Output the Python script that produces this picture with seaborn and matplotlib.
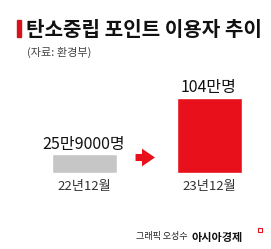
import matplotlib
matplotlib.use("Agg")
import matplotlib.pyplot as plt
import seaborn as sns
import pandas as pd

categories = ["22년12월", "23년12월"]
values = [25.9, 104]
value_labels = ["25만9000명", "104만명"]
bar_colors = ["#c6c6c6", "#e8101a"]
title = "탄소중립 포인트 이용자 추이"
source = "(자료: 환경부)"
credit = "그래픽 오성수"
brand = "아시아경제"

sns.set_theme(style="white")
plt.rcParams['font.family'] = ['Noto Sans CJK KR', 'DejaVu Sans']

W, H = 271, 249
fig = plt.figure(figsize=(W / 100, H / 100), dpi=100)
fig.patch.set_facecolor("white")

bottom_px, top_px = 173, 98
ax = fig.add_axes([0, 1 - bottom_px / H, 1, (bottom_px - top_px) / H])
df = pd.DataFrame({"cat": categories, "val": values})
sns.barplot(data=df, x="cat", y="val", hue="cat", palette=bar_colors,
            width=0.52, legend=False, ax=ax, saturation=1)
c0 = 84
step = 125
ax.set_xlim(-c0 / step, (W - c0) / step)
ax.set_ylim(0, values[1])
for s in ax.spines.values():
    s.set_visible(False)
ax.set_yticks([])
ax.set_xlabel("")
ax.set_ylabel("")
ax.tick_params(axis="x", length=0, pad=5, labelsize=9.5, labelcolor="#333333")
ax.set_facecolor("none")

for i, (v, lab) in enumerate(zip(values, value_labels)):
    ax.text(i, v + 2.5, lab, ha="center", va="bottom", fontsize=11.5,
            fontweight="medium", color="#111111", clip_on=False)

ax.annotate("", xy=(0.59, 21.5), xytext=(0.39, 21.5),
            arrowprops=dict(arrowstyle="simple,head_length=0.55,head_width=0.75,tail_width=0.3",
                            mutation_scale=17, color="#e8101a", lw=0),
            annotation_clip=False)

# title
fig.patches.append(plt.Rectangle((17 / W, 1 - 37 / H), 4 / W, 17 / H,
                                 transform=fig.transFigure, color="#d8121b"))
fig.text(26 / W, 1 - 29 / H, title, fontsize=14.5, fontweight="bold",
         color="#111111", va="center", ha="left")
fig.text(27 / W, 1 - 52 / H, source, fontsize=8, color="#444444",
         va="center", ha="left")

fig.text(187 / W, 1 - 236.5 / H, credit, fontsize=6.5, color="#222222",
         va="center", ha="right")
fig.text(192 / W, 1 - 237 / H, brand, fontsize=8, fontweight="bold",
         color="#111111", va="center", ha="left")
fig.patches.append(plt.Rectangle((258 / W, 1 - 232 / H), 4 / W, 4 / H,
                                 transform=fig.transFigure, fill=False,
                                 edgecolor="#e8101a", lw=0.8))

fig.savefig("out.png", dpi=100, facecolor="white")
